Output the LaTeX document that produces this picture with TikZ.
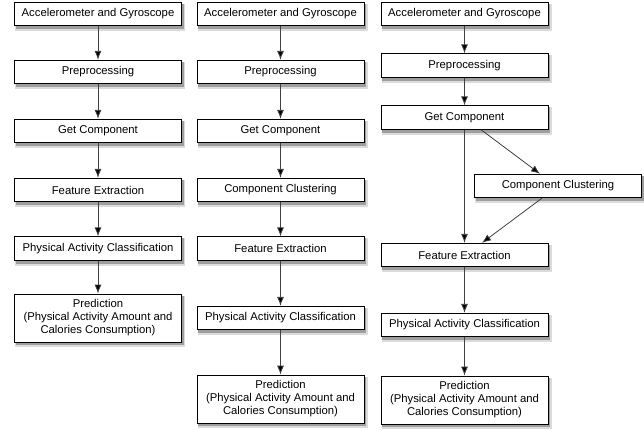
\documentclass[tikz,border=0pt]{standalone}
\usepackage{fontspec}
\setmainfont{Liberation Sans}
\usetikzlibrary{arrows.meta,backgrounds}

\begin{document}
\begin{tikzpicture}[
    x=1pt, y=-1pt,
    stage/.style={rectangle, draw=black, line width=0.8pt, fill=white, minimum width=167pt, minimum height=23.5pt, inner sep=0pt, align=center, font=\fontsize{11.3}{13}\selectfont},
    result/.style={stage, minimum height=48pt},
    shade1/.style={fill=black!14, draw=none},
    shade2/.style={fill=black!38, draw=none},
    flow/.style={->, >={Latex[length=9pt,width=7pt,fill=black]}, draw=black!75, line width=0.8pt}
]
\useasboundingbox (0,0) rectangle (644,429);

% First pipeline
\node[stage] (acc1) at (98,14) {Accelerometer and Gyroscope};
\node[stage] (pre1) at (98,72) {Preprocessing};
\node[stage] (comp1) at (98,131) {Get Component};
\node[stage] (feat1) at (98,190) {Feature Extraction};
\node[stage] (class1) at (98,248.5) {Physical Activity Classification};
\node[result] (pred1) at (98,318) {Prediction\\(Physical Activity Amount and\\Calories Consumption)};

% Second pipeline
\node[stage] (acc2) at (280.5,14) {Accelerometer and Gyroscope};
\node[stage] (pre2) at (280.5,72) {Preprocessing};
\node[stage] (comp2) at (280.5,131) {Get Component};
\node[stage] (clust2) at (280.5,190) {Component Clustering};
\node[stage] (feat2) at (280.5,248.5) {Feature Extraction};
\node[stage] (class2) at (280.5,318) {Physical Activity Classification};
\node[result] (pred2) at (280.5,399) {Prediction\\(Physical Activity Amount and\\Calories Consumption)};

% Third pipeline
\node[stage] (acc3) at (464.5,14) {Accelerometer and Gyroscope};
\node[stage] (pre3) at (464.5,65.5) {Preprocessing};
\node[stage] (comp3) at (464.5,117.5) {Get Component};
\node[stage] (clust3) at (558,186) {Component Clustering};
\node[stage] (feat3) at (464.5,255) {Feature Extraction};
\node[stage] (class3) at (464.5,325) {Physical Activity Classification};
\node[result] (pred3) at (464.5,400) {Prediction\\(Physical Activity Amount and\\Calories Consumption)};

% Shadows
\begin{scope}[on background layer]
\foreach \n in {acc1,pre1,comp1,feat1,class1,pred1,acc2,pre2,comp2,clust2,feat2,class2,pred2,acc3,pre3,comp3,clust3,feat3,class3,pred3}{
    \fill[shade1] ([shift={(1,2)}]\n.north west) rectangle ([shift={(3.5,5)}]\n.south east);
    \fill[shade2] ([shift={(1.5,2)}]\n.north west) rectangle ([shift={(2,3)}]\n.south east);
}
\end{scope}

% Flows
\draw[flow] (acc1) -- (pre1);
\draw[flow] (pre1) -- (comp1);
\draw[flow] (comp1) -- (feat1);
\draw[flow] (feat1) -- (class1);
\draw[flow] (class1) -- (pred1);

\draw[flow] (acc2) -- (pre2);
\draw[flow] (pre2) -- (comp2);
\draw[flow] (comp2) -- (clust2);
\draw[flow] (clust2) -- (feat2);
\draw[flow] (feat2) -- (class2);
\draw[flow] (class2) -- (pred2);

\draw[flow] (acc3) -- (pre3);
\draw[flow] (pre3) -- (comp3);
\draw[flow] (comp3) -- (feat3);
\draw[flow] ([xshift=16.5pt]comp3.south) -- ([xshift=-18pt]clust3.north);
\draw[flow] ([xshift=-16pt]clust3.south) -- ([xshift=17.5pt]feat3.north);
\draw[flow] (feat3) -- (class3);
\draw[flow] (class3) -- (pred3);

\end{tikzpicture}
\end{document}
